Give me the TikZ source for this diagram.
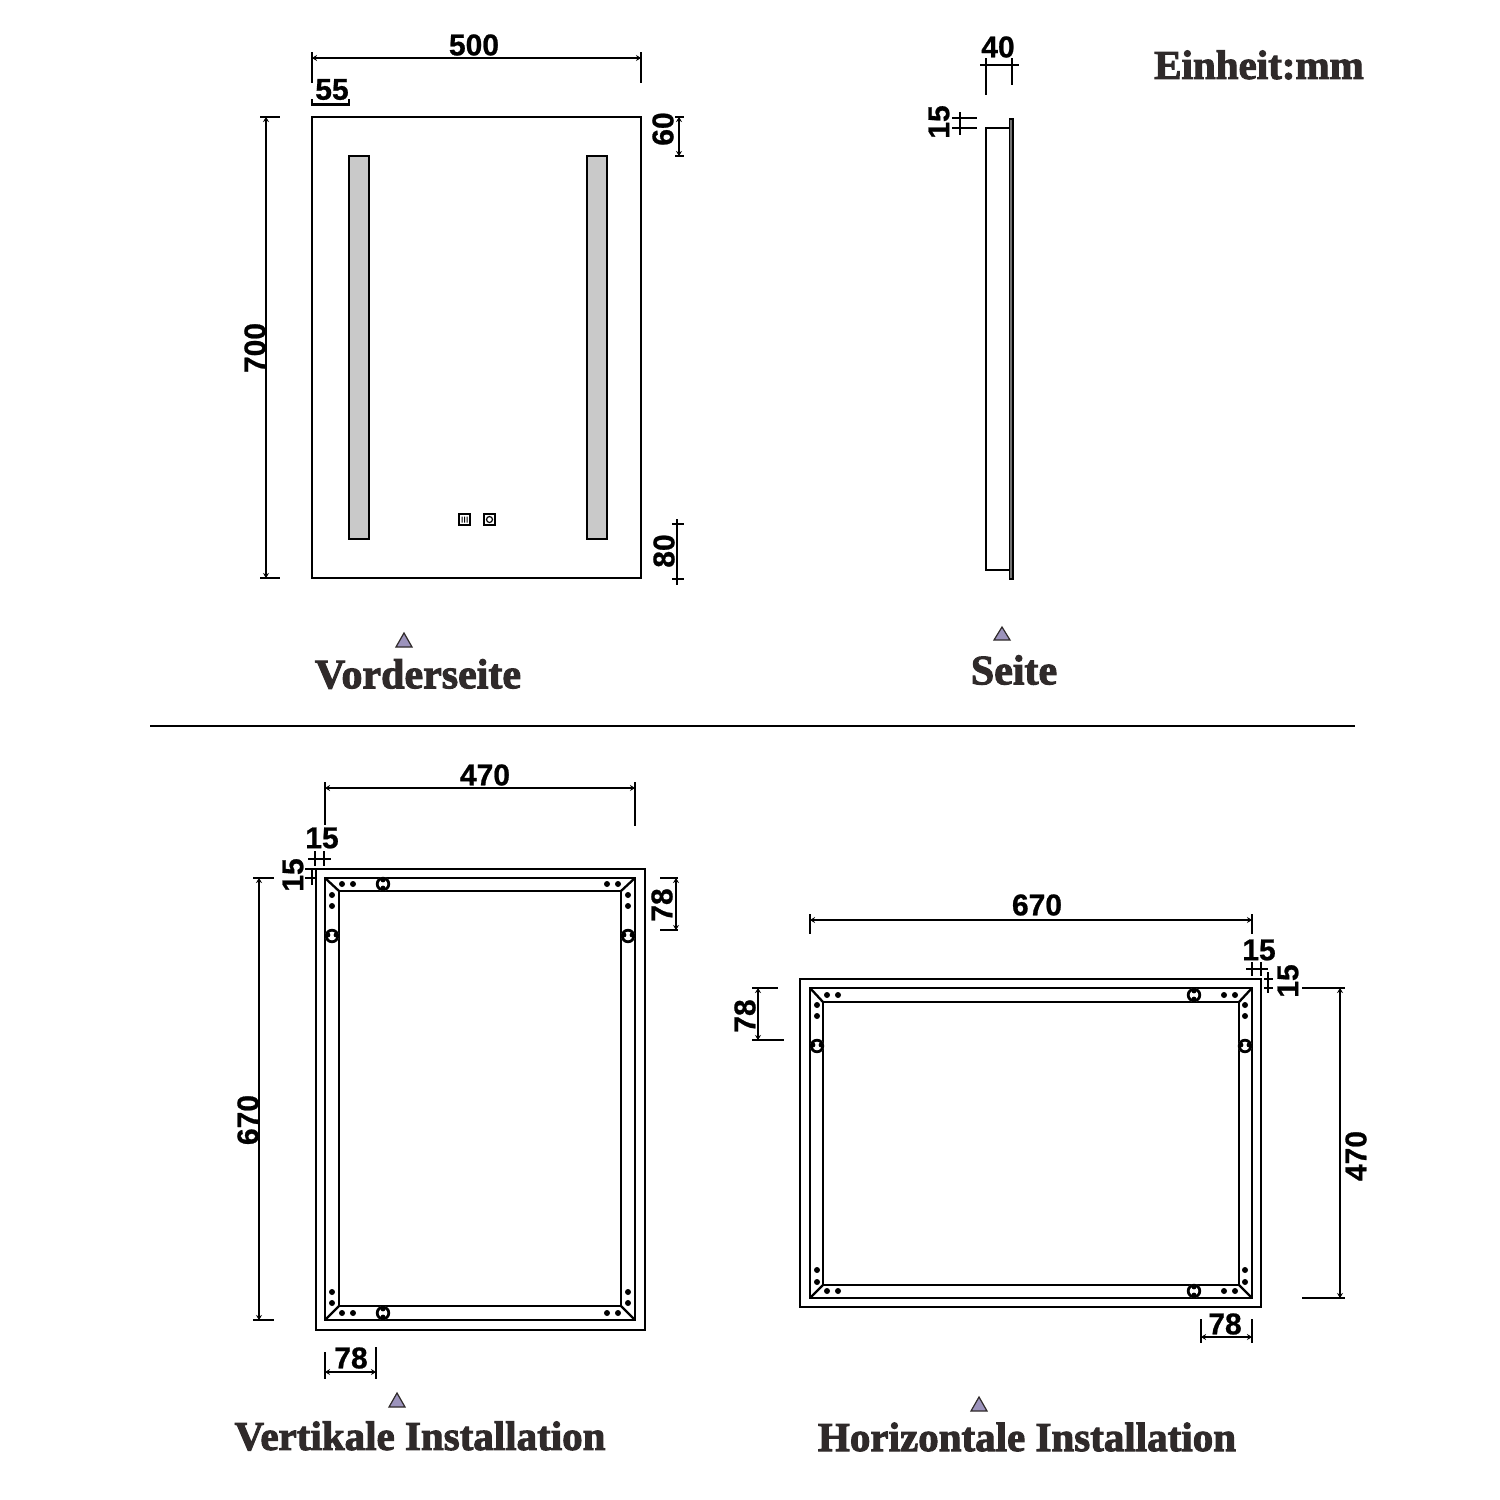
\documentclass[tikz,border=0pt]{standalone}
\usepackage{fontspec}
\usetikzlibrary{arrows.meta}
\newfontfamily\dimfont[BoldFeatures={FakeBold=0.8}]{Liberation Sans}
\newfontfamily\ttlfont[BoldFeatures={FakeBold=2.4}]{Liberation Serif}
\definecolor{ttlc}{HTML}{2F2A2A}
\definecolor{trifill}{HTML}{9C93BC}
\definecolor{ledg}{HTML}{C9C9C9}
\tikzset{
  x=1pt,y=-1pt,
  part/.style={line width=2.6pt,draw=black,line join=miter},
  thin part/.style={line width=2.3pt,draw=black},
  dimline/.style={line width=2.4pt,draw=black,{Stealth[length=5pt,width=6pt]}-{Stealth[length=5pt,width=6pt]}},
  tick/.style={line width=2.5pt,draw=black},
  dimtxt/.style={font=\dimfont\bfseries\fontsize{30}{30}\selectfont,inner sep=0pt,text=black},
  ttl/.style={font=\ttlfont\bfseries\fontsize{41}{41}\selectfont,inner sep=0pt,text=ttlc},
  ttlbig/.style={font=\ttlfont\bfseries\fontsize{42}{42}\selectfont,inner sep=0pt,text=ttlc},
  tri/.style={fill=trifill,draw=ttlc,line width=1.2pt},
  dot/.style={fill=black,draw=none}
}
\newcommand{\tinydots}[1]{\foreach \a/\b in {#1}{\fill[dot] (\a,\b) circle[radius=3];}}
\newcommand{\keyV}[2]{\fill[white] (#1,#2) circle[radius=7];
  \draw[line width=2.8pt] (#1,#2) circle[radius=5.8];
  \fill (#1-4,#2-1) circle[radius=2.4]; \fill (#1+4,#2-1) circle[radius=2.4];}
\newcommand{\keyH}[2]{\fill[white] (#1,#2) circle[radius=7];
  \draw[line width=2.8pt] (#1,#2) circle[radius=5.8];
  \fill (#1,#2-4) circle[radius=2.4]; \fill (#1,#2+4) circle[radius=2.4];}
\begin{document}
\begin{tikzpicture}
\useasboundingbox (0,0) rectangle (1500,1500);
\fill[white] (0,0) rectangle (1500,1500);

%% ---------- Front view ----------
\draw[part] (312,117) rectangle (641,578);
\draw[part,fill=ledg] (349,156) rectangle (369,539);
\draw[part,fill=ledg] (587,156) rectangle (607,539);
\draw[line width=1.5pt] (459,514) rectangle (470,525);
\draw[line width=1.5pt] (484,514) rectangle (495,525);
\draw[line width=1.2pt] (489.5,519.5) circle[radius=3];
\foreach \q in {462,464.5,467}{\draw[line width=1pt] (\q,516.5) .. controls (\q+1.5,518.5) and (\q-1.5,520.5) .. (\q,522.5);}
% 500
\draw[dimline] (312,58) -- (641,58);
\draw[tick] (312,52) -- (312,83);
\draw[tick] (641,52) -- (641,83);
\node[dimtxt] (d500) at (474,45) {500};
% 55
\draw[line width=2.4pt] (312,104.5) -- (349,104.5);
\draw[tick] (312,99) -- (312,106);
\draw[tick] (349,99) -- (349,106);
\node[dimtxt] (d55) at (332,89.5) {55};
% 700
\draw[dimline] (266,117) -- (266,578);
\draw[tick] (260,117) -- (280,117);
\draw[tick] (260,578) -- (280,578);
\node[dimtxt,rotate=90] (d700) at (255,348) {700};
% 60
\draw[dimline] (679,117) -- (679,156);
\draw[tick] (675,117) -- (684,117);
\draw[tick] (675,156) -- (684,156);
\node[dimtxt,rotate=90] (d60) at (663,129) {60};
% 80
\draw[line width=2.4pt] (677,519) -- (677,585);
\draw[tick] (672,524) -- (684,524);
\draw[tick] (672,579) -- (684,579);
\node[dimtxt,rotate=90] (d80) at (664,551) {80};
% title
\draw[tri] (396,647) -- (404,633) -- (412,647) -- cycle;
\node[ttlbig] (tfront) at (418,674) {Vorderseite};

%% ---------- Side view ----------
\draw[part] (1010,128) -- (986,128) -- (986,570) -- (1010,570);
\draw[line width=1.2pt,draw=black,fill=black!55] (1009.5,119) rectangle (1013,579);
% 40
\draw[line width=2.4pt] (980,65) -- (1019,65);
\draw[tick] (986,58) -- (986,95);
\draw[tick] (1012,58) -- (1012,85);
\node[dimtxt] (d40) at (998,47) {40};
% 15
\draw[tick] (952,118) -- (977,118);
\draw[tick] (952,128) -- (977,128);
\draw[tick] (960,112) -- (960,135);
\node[dimtxt,rotate=90] (d15s) at (939,122) {15};
\draw[tri] (994,640) -- (1002,627) -- (1010,640) -- cycle;
\node[ttlbig] (tside) at (1014,670) {Seite};

%% ---------- Unit ----------
\node[ttl] (unit) at (1259,65) {Einheit:mm};

%% ---------- Separator ----------
\draw[line width=1.6pt] (150,726) -- (1355,726);

%% ---------- Vertical installation ----------
\draw[part] (316,869) rectangle (645,1330);
\draw[part] (325,878) rectangle (635,1320);
\draw[part] (339,891) rectangle (621,1306);
\draw[thin part] (325,878) -- (339,891);
\draw[thin part] (635,878) -- (621,891);
\draw[thin part] (325,1320) -- (339,1306);
\draw[thin part] (635,1320) -- (621,1306);
\tinydots{342/884,353/884,332/895,332/906,607/884,618/884,628/895,628/906,
  332/1292,332/1303,342/1313,353/1313,628/1292,628/1303,607/1313,618/1313}
\keyH{383}{884}
\keyH{383}{1313}
\keyV{332}{936}
\keyV{628}{936}
% 470
\draw[dimline] (325,788) -- (635,788);
\draw[tick] (325,782) -- (325,825);
\draw[tick] (635,782) -- (635,826);
\node[dimtxt] (d470a) at (485,775) {470};
% 15 top
\draw[tick] (308,859) -- (331,859);
\draw[tick] (315,851) -- (315,866);
\draw[tick] (324,851) -- (324,866);
\node[dimtxt] (d15a) at (322,838) {15};
% 15 left
\draw[tick] (312,868) -- (312,885);
\draw[tick] (305,869) -- (315,869);
\draw[tick] (305,878) -- (315,878);
\node[dimtxt,rotate=90] (d15b) at (293,875) {15};
% 670
\draw[dimline] (259,878) -- (259,1320);
\draw[tick] (253,878) -- (274,878);
\draw[tick] (253,1320) -- (274,1320);
\node[dimtxt,rotate=90] (d670a) at (248,1120) {670};
% 78 right
\draw[dimline] (676,878) -- (676,930);
\draw[tick] (660,878) -- (678,878);
\draw[tick] (660,930) -- (678,930);
\node[dimtxt,rotate=90] (d78a) at (662,905) {78};
% 78 bottom
\draw[dimline] (325,1372) -- (376,1372);
\draw[tick] (325,1352) -- (325,1379);
\draw[tick] (376,1347) -- (376,1379);
\node[dimtxt] (d78b) at (351,1358) {78};
\draw[tri] (389,1407) -- (397,1393) -- (405,1407) -- cycle;
\node[ttl] (tvert) at (420,1436) {Vertikale Installation};

%% ---------- Horizontal installation ----------
\draw[part] (800,979) rectangle (1261,1307);
\draw[part] (810,988) rectangle (1252,1298);
\draw[part] (823,1002) rectangle (1239,1285);
\draw[thin part] (810,988) -- (823,1002);
\draw[thin part] (1252,988) -- (1239,1002);
\draw[thin part] (810,1298) -- (823,1285);
\draw[thin part] (1252,1298) -- (1239,1285);
\tinydots{827/995,838/995,817/1005,817/1016,1224/995,1235/995,1245/1005,1245/1016,
  817/1270,817/1282,827/1291,838/1291,1224/1291,1235/1291,1245/1270,1245/1282}
\keyH{1194}{995}
\keyH{1194}{1291}
\keyV{817}{1046}
\keyV{1245}{1046}
% 670
\draw[dimline] (810,920) -- (1252,920);
\draw[tick] (810,914) -- (810,934);
\draw[tick] (1252,914) -- (1252,934);
\node[dimtxt] (d670b) at (1037,905) {670};
% 15 top
\draw[tick] (1246,969) -- (1268,969);
\draw[tick] (1252,962) -- (1252,976);
\draw[tick] (1261,962) -- (1261,976);
\node[dimtxt] (d15c) at (1259,950) {15};
% 15 right
\draw[tick] (1268,972) -- (1268,993);
\draw[tick] (1264,979) -- (1273,979);
\draw[tick] (1264,988) -- (1273,988);
\node[dimtxt,rotate=90] (d15d) at (1288,981) {15};
% 470
\draw[dimline] (1340,988) -- (1340,1298);
\draw[tick] (1302,988) -- (1345,988);
\draw[tick] (1302,1298) -- (1345,1298);
\node[dimtxt,rotate=90] (d470b) at (1356,1156) {470};
% 78 left
\draw[dimline] (758,988) -- (758,1040);
\draw[tick] (752,988) -- (778,988);
\draw[tick] (752,1040) -- (784,1040);
\node[dimtxt,rotate=90] (d78c) at (745,1016) {78};
% 78 bottom
\draw[dimline] (1201,1337) -- (1252,1337);
\draw[tick] (1201,1319) -- (1201,1343);
\draw[tick] (1252,1319) -- (1252,1343);
\node[dimtxt] (d78d) at (1225,1324) {78};
\draw[tri] (971,1411) -- (979,1397) -- (987,1411) -- cycle;
\node[ttl] (thor) at (1027,1437) {Horizontale Installation};
\end{tikzpicture}
\end{document}
